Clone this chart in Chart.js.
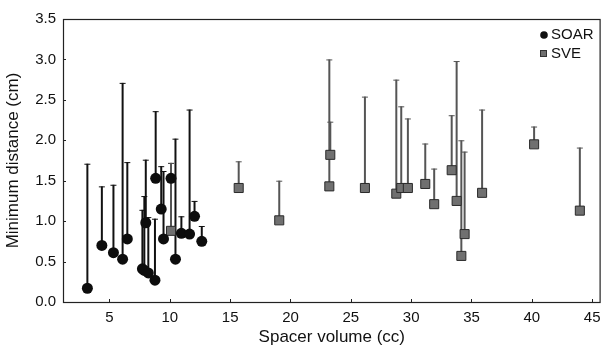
<!DOCTYPE html>
<html lang="en">
<head>
    <meta charset="UTF-8">
    <title>Minimum distance vs spacer volume</title>
    <script src="https://cdn.jsdelivr.net/npm/chart.js"></script>
    <style>
        html, body { margin: 0; padding: 0; background: #fff; }
        #wrap { width: 608px; height: 349px; }
    </style>
</head>
<body>
    <div id="wrap"><canvas id="distChart" width="608" height="349"></canvas></div>

    <script>
        // SOAR: spacer volume, minimum distance, top of the range bar
        const soarX   = [3.17, 4.37, 5.33, 6.09, 6.48, 7.73, 7.89, 8.01, 8.22, 8.77, 8.83, 9.29, 9.48, 10.1, 10.47, 10.96, 11.64, 12.05, 12.65];
        const soarY   = [0.17, 0.70, 0.61, 0.53, 0.78, 0.41, 0.39, 0.98, 0.36, 0.27, 1.53, 1.15, 0.78, 1.53, 0.53, 0.85, 0.84, 1.06, 0.75];
        const soarTop = [1.71, 1.43, 1.45, 2.71, 1.73, 1.14, 1.31, 1.76, 1.05, 1.03, 2.36, 1.68, 1.62, 1.72, 2.02, 1.06, 2.38, 1.25, 0.94];

        // SVE
        const sveX   = [10.1, 15.71, 19.07, 23.22, 23.3, 26.17, 28.77, 29.18, 29.73, 31.17, 31.91, 33.36, 33.77, 34.16, 34.43, 35.88, 40.19, 43.98];
        const sveY   = [0.88, 1.41, 1.01, 1.43, 1.82, 1.41, 1.34, 1.41, 1.41, 1.46, 1.21, 1.63, 1.25, 0.57, 0.84, 1.35, 1.95, 1.13];
        const sveTop = [1.72, 1.74, 1.50, 3.00, 2.23, 2.54, 2.75, 2.42, 2.27, 1.96, 1.65, 2.31, 2.98, 2.00, 1.86, 2.38, 2.17, 1.91];

        const xTickValues = [5, 10, 15, 20, 25, 30, 35, 40, 45];
        const yTickValues = [0, 0.5, 1.0, 1.5, 2.0, 2.5, 3.0, 3.5];

        const FONT = "'Liberation Sans', Arial, Helvetica, sans-serif";

        function toPoints(xs, ys) {
            return xs.map((x, i) => ({ x: x, y: ys[i] }));
        }

        // vertical range bars from each point up to its top value
        const errorBars = {
            id: 'errorBars',
            beforeDatasetsDraw(chart) {
                const ctx = chart.ctx;
                const xs = chart.scales.x, ys = chart.scales.y;
                chart.data.datasets.forEach((ds, i) => {
                    ctx.save();
                    ctx.strokeStyle = ds.barColor;
                    ds.data.forEach((p, j) => {
                        const px = xs.getPixelForValue(p.x);
                        const y1 = ys.getPixelForValue(p.y);
                        const y2 = ys.getPixelForValue(ds.tops[j]);
                        ctx.lineWidth = ds.barWidth;
                        ctx.beginPath();
                        ctx.moveTo(px, y1);
                        ctx.lineTo(px, y2);
                        ctx.stroke();
                        ctx.lineWidth = 1;
                        ctx.beginPath();
                        ctx.moveTo(px - 3, y2 + 0.5);
                        ctx.lineTo(px + 3, y2 + 0.5);
                        ctx.stroke();
                    });
                    ctx.restore();
                });
            }
        };

        // frame, inward ticks and the legend in the top right corner
        const frameAndLegend = {
            id: 'frameAndLegend',
            afterDraw(chart) {
                const ctx = chart.ctx;
                const a = chart.chartArea;
                const xs = chart.scales.x, ys = chart.scales.y;
                ctx.save();
                ctx.strokeStyle = '#222';
                ctx.lineWidth = 1.2;
                ctx.strokeRect(a.left + 0.5, a.top + 0.5, a.right - a.left - 1, a.bottom - a.top);
                ctx.lineWidth = 1;
                xTickValues.forEach(v => {
                    const px = Math.round(xs.getPixelForValue(v)) + 0.5;
                    ctx.beginPath();
                    ctx.moveTo(px, a.bottom);
                    ctx.lineTo(px, a.bottom - 3);
                    ctx.stroke();
                });
                yTickValues.forEach(v => {
                    const py = Math.round(ys.getPixelForValue(v)) + 0.5;
                    ctx.beginPath();
                    ctx.moveTo(a.left, py);
                    ctx.lineTo(a.left + 3, py);
                    ctx.stroke();
                });

                // legend
                ctx.font = '15px ' + FONT;
                ctx.textBaseline = 'middle';
                ctx.fillStyle = '#111';
                ctx.beginPath();
                ctx.arc(544, 35, 3.8, 0, Math.PI * 2);
                ctx.fill();
                ctx.fillText(chart.data.datasets[0].label, 551, 35);
                ctx.fillStyle = '#6f6f6f';
                ctx.strokeStyle = '#333';
                ctx.fillRect(540.5, 50.5, 6, 6);
                ctx.strokeRect(540.5, 50.5, 6, 6);
                ctx.fillStyle = '#111';
                ctx.fillText(chart.data.datasets[1].label, 551, 54);
                ctx.restore();
            }
        };

        const ctx = document.getElementById('distChart').getContext('2d');
        new Chart(ctx, {
            type: 'scatter',
            data: {
                datasets: [
                    {
                        label: 'SOAR',
                        data: toPoints(soarX, soarY),
                        tops: soarTop,
                        barColor: '#111',
                        barWidth: 2,
                        pointStyle: 'circle',
                        pointRadius: 5.5,
                        backgroundColor: '#0d0d0d',
                        borderColor: '#0d0d0d',
                        borderWidth: 0
                    },
                    {
                        label: 'SVE',
                        data: toPoints(sveX, sveY),
                        tops: sveTop,
                        barColor: '#555',
                        barWidth: 2,
                        pointStyle: 'rect',
                        pointRadius: 6.4,
                        backgroundColor: '#707070',
                        borderColor: '#2a2a2a',
                        borderWidth: 1
                    }
                ]
            },
            options: {
                responsive: false,
                animation: false,
                layout: { padding: { top: 19, right: 1, left: 0, bottom: 0 } },
                plugins: {
                    legend: { display: false },
                    tooltip: { enabled: false }
                },
                scales: {
                    x: {
                        type: 'linear',
                        min: 1.15,
                        max: 45.7,
                        afterFit: scale => { scale.height = 47; },
                        afterBuildTicks: scale => { scale.ticks = xTickValues.map(v => ({ value: v })); },
                        grid: { display: false, drawTicks: false },
                        border: { display: false },
                        ticks: {
                            color: '#111',
                            padding: 7,
                            font: { family: FONT, size: 15 },
                            callback: v => String(v)
                        },
                        title: {
                            display: true,
                            text: 'Spacer volume (cc)',
                            color: '#111',
                            font: { family: FONT, size: 17 },
                            padding: { top: 2, bottom: 1 }
                        }
                    },
                    y: {
                        min: 0,
                        max: 3.5,
                        afterFit: scale => { scale.width = 63; },
                        afterBuildTicks: scale => { scale.ticks = yTickValues.map(v => ({ value: v })); },
                        grid: { display: false, drawTicks: false },
                        border: { display: false },
                        ticks: {
                            color: '#111',
                            padding: 7,
                            font: { family: FONT, size: 15 },
                            callback: v => Number(v).toFixed(1)
                        },
                        title: {
                            display: true,
                            text: 'Minimum distance (cm)',
                            color: '#111',
                            font: { family: FONT, size: 17 },
                            padding: { top: 3, bottom: 2 }
                        }
                    }
                }
            },
            plugins: [errorBars, frameAndLegend]
        });
    </script>
</body>
</html>
